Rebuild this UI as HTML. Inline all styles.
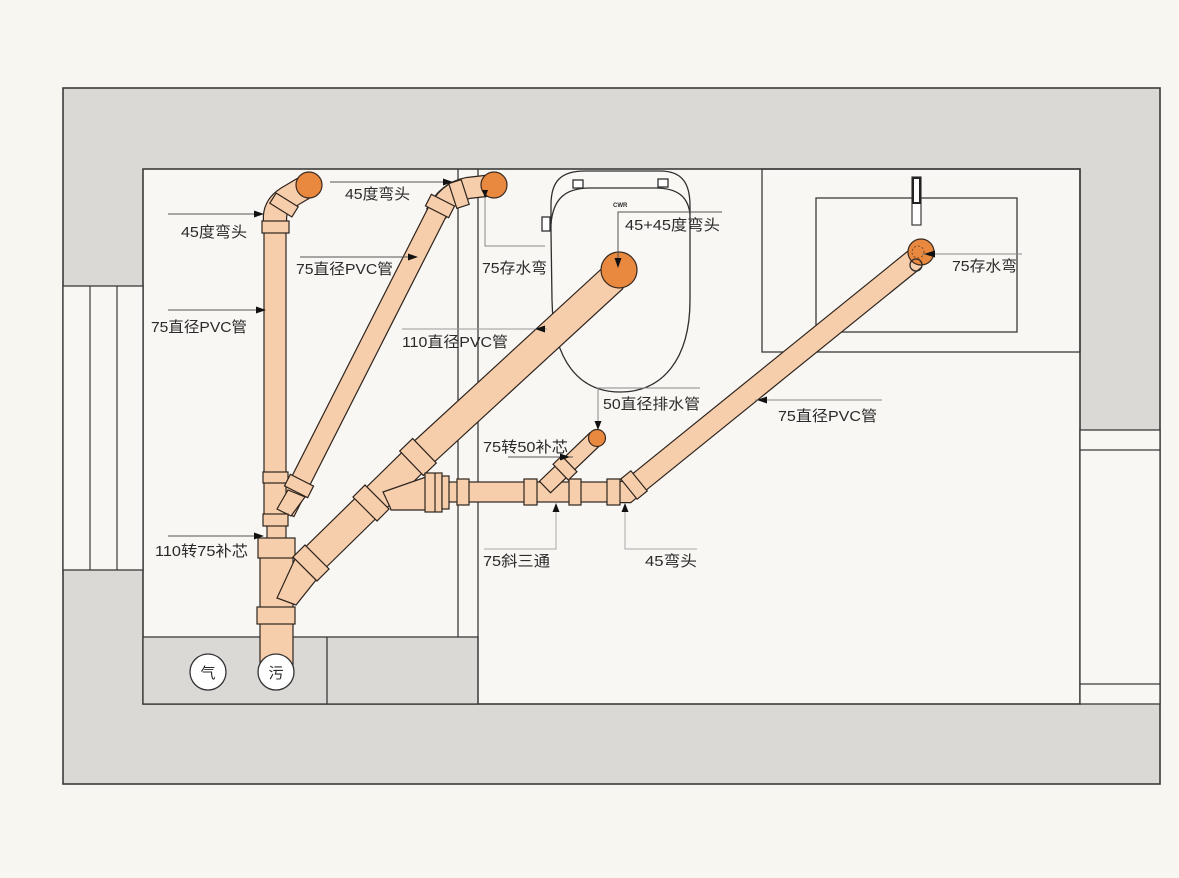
<!DOCTYPE html>
<html><head><meta charset="utf-8"><style>
html,body{margin:0;padding:0;background:#F8F6F1;}
svg{display:block;}
text{font-family:"Liberation Sans","Noto Sans CJK SC",sans-serif;font-size:15px;fill:#2a2a2a;}
</style></head><body>
<svg width="1179" height="878" viewBox="0 0 1179 878" xmlns="http://www.w3.org/2000/svg">
<rect width="1179" height="878" fill="#F8F6F1"/>
<!-- walls -->
<rect x="63" y="88" width="1097" height="696" fill="#DAD9D5" stroke="#3a3a3a" stroke-width="1.6"/>
<rect x="143" y="169" width="937" height="535" fill="#F9F7F3" stroke="#3a3a3a" stroke-width="1.6"/>
<!-- left opening -->
<rect x="63" y="286" width="80" height="284" fill="#F9F7F3" stroke="#3a3a3a" stroke-width="1.3"/>
<g stroke="#3a3a3a" stroke-width="1.2">
<line x1="90" y1="286" x2="90" y2="570"/>
<line x1="117" y1="286" x2="117" y2="570"/>
</g>
<!-- right opening -->
<rect x="1080" y="430" width="80" height="274" fill="#F9F7F3" stroke="#3a3a3a" stroke-width="1.3"/>
<g stroke="#3a3a3a" stroke-width="1.2">
<line x1="1080" y1="450" x2="1160" y2="450"/>
<line x1="1080" y1="684" x2="1160" y2="684"/>
</g>
<!-- floor strip -->
<rect x="143" y="637" width="335" height="67" fill="#DAD9D5" stroke="#3a3a3a" stroke-width="1.3"/>
<g stroke="#3a3a3a" stroke-width="1.3">
<line x1="327" y1="637" x2="327" y2="704"/>
<line x1="458" y1="169" x2="458" y2="637"/>
<line x1="478" y1="169" x2="478" y2="704"/>
</g>
<!-- sink -->
<g fill="none" stroke="#3a3a3a" stroke-width="1.3">
<rect x="762" y="169" width="318" height="183"/>
<rect x="816" y="198" width="201" height="134"/>
</g>
<rect x="912" y="177" width="9" height="48" fill="#fff" stroke="#3a3a3a" stroke-width="1.2"/>
<rect x="913" y="178" width="7" height="25" fill="#fff" stroke="#222" stroke-width="2"/>
<!-- toilet -->
<g fill="none" stroke="#2f2f2f" stroke-width="1.3">
<path d="M 551,232 L 551,205 C 551,181 561,171 585,171 L 660,171 C 682,171 690,183 690,206 L 690,300 C 690,360 662,392 620,392 C 580,392 553,362 552,300 Z" fill="#FAF8F4"/>
<path d="M 551,224 C 553,199 565,188 590,188 L 655,188 C 678,188 688,197 690,214"/>
<rect x="573" y="180" width="10" height="8" fill="#fff"/>
<rect x="658" y="179" width="10" height="8" fill="#fff"/>
<rect x="542" y="217" width="8" height="14" fill="#fff"/>
</g>
<text x="613" y="207" style="font-size:6px;font-weight:bold" >CWR</text>

<!-- ============ PIPES ============ -->
<g fill="#F6CEAC" stroke="#2e241d" stroke-width="1.2">
<!-- left elbow -->
<path d="M 275,230 L 275,216 Q 276,205 287,198 L 309,185" fill="none" stroke="#2e241d" stroke-width="24.4" stroke-linejoin="round"/>
<path d="M 275,232 L 275,216 Q 276,205 287,198 L 309,185" fill="none" stroke="#F6CEAC" stroke-width="22" stroke-linejoin="round"/>
<!-- top-middle elbow -->
<path d="M 436,214 Q 447,192 468,188 L 494,185" fill="none" stroke="#2e241d" stroke-width="22.4" stroke-linejoin="round"/>
<path d="M 436,216 Q 447,192 468,188 L 494,185" fill="none" stroke="#F6CEAC" stroke-width="20" stroke-linejoin="round"/>
<!-- upper 75 diagonal -->
<rect x="0" y="-10" width="345" height="20" transform="translate(285,512) rotate(-63.1)"/>
<!-- vertical 75 -->
<rect x="264" y="226" width="22" height="292"/>
<!-- reducer -->
<rect x="267" y="524" width="19" height="16"/>
<!-- vertical 110 -->
<rect x="260" y="545" width="33" height="122"/>
<!-- re-draw diagonal end over the vertical -->
<polygon points="277,509 288,490 305,497 291,516"/>
<!-- 110 diagonal upper -->
<rect x="0" y="-14.5" width="265" height="29" transform="translate(613,278) rotate(137.4)"/>
<!-- 110 diagonal lower -->
<rect x="0" y="-14.5" width="150" height="29" transform="translate(418,457) rotate(135.6)"/>
<polygon points="295,559 316,580 296,605 277,598"/>
<!-- wye branch -->
<polygon points="383,492 426,477 426,510 391,510 390,507"/>
<!-- horizontal 75 -->
<rect x="440" y="482" width="180" height="20"/>
<!-- 50 branch -->
<rect x="0" y="-8" width="70" height="16" transform="translate(545,487) rotate(-43.8)"/>
<!-- sink diagonal with elbow -->
<polyline points="612,492 627,492 915,259" fill="none" stroke="#2e241d" stroke-width="22.4" stroke-linejoin="miter"/>
<polyline points="610,492 627,492 915,259" fill="none" stroke="#F6CEAC" stroke-width="20" stroke-linejoin="miter"/>

<!-- couplings vertical -->
<rect x="262" y="221" width="27" height="12"/>
<rect x="263" y="472" width="25" height="11"/>
<rect x="263" y="514" width="25" height="12"/>
<rect x="258" y="538" width="37" height="20"/>
<rect x="257" y="607" width="38" height="17"/>
<!-- couplings upper diagonal -->
<rect x="-6.5" y="-13" width="13" height="26" transform="translate(299,486) rotate(-63.1)"/>
<rect x="-6.5" y="-13" width="13" height="26" transform="translate(440,206) rotate(-63.1)"/>
<rect x="-6.5" y="-13" width="13" height="26" transform="translate(459,194) rotate(-18)"/>
<!-- left elbow coupling -->
<rect x="-6" y="-13" width="12" height="26" transform="translate(284,205) rotate(-58)"/>
<!-- 110 couplings -->
<rect x="-9" y="-17" width="18" height="34" transform="translate(418,457) rotate(-44)"/>
<rect x="-8.5" y="-17" width="17" height="34" transform="translate(371,503) rotate(-45)"/>
<rect x="-8.5" y="-17" width="17" height="34" transform="translate(311,563) rotate(-45)"/>
<!-- horizontal couplings -->
<rect x="425" y="473" width="17" height="39"/>
<line x1="435" y1="473" x2="435" y2="512"/>
<rect x="442" y="476" width="7" height="33"/>
<rect x="457" y="479" width="12" height="26"/>
<rect x="524" y="479" width="13" height="26"/>
<rect x="569" y="479" width="12" height="26"/>
<rect x="607" y="479" width="13" height="26"/>
<!-- branch couplings -->
<rect x="-6" y="-11" width="12" height="22" transform="translate(565,468) rotate(-43.8)"/>
<rect x="-6.5" y="-13" width="13" height="26" transform="translate(634,485) rotate(-39)"/>
</g>

<!-- orange circles -->
<g fill="#E9893F" stroke="#3a2a20" stroke-width="1.2">
<circle cx="309" cy="185" r="13"/>
<circle cx="494" cy="185" r="13"/>
<circle cx="619" cy="270" r="18"/>
<circle cx="597" cy="438" r="8.5"/>
<circle cx="921" cy="252" r="13"/>
</g>
<circle cx="918" cy="252" r="6" fill="none" stroke="#7a4a25" stroke-width="1" stroke-dasharray="2,2"/>
<circle cx="916" cy="265" r="6" fill="none" stroke="#2a2a2a" stroke-width="1.3"/>

<!-- floor drains -->
<g fill="#fff" stroke="#333" stroke-width="1.3">
<circle cx="208" cy="672" r="18"/>
<circle cx="276" cy="672" r="18"/>
</g>
<text x="208" y="678" text-anchor="middle" style="font-size:15px">气</text>
<text x="276" y="678" text-anchor="middle" style="font-size:15px">污</text>

<!-- ============ LEADERS ============ -->
<g stroke="#555" stroke-width="1" fill="none">
<line x1="168" y1="214" x2="262" y2="214"/>
<line x1="168" y1="310" x2="264" y2="310"/>
<line x1="330" y1="182" x2="452" y2="182"/>
<line x1="300" y1="257" x2="416" y2="257"/>
<polyline points="485,192 485,246 545,246" stroke="#888"/>
<polyline points="722,212 618,212 618,266"/>
<line x1="402" y1="329" x2="547" y2="329" stroke="#999"/>
<polyline points="700,388 598,388 598,426" stroke="#888"/>
<line x1="508" y1="457" x2="573" y2="457"/>
<line x1="755" y1="400" x2="882" y2="400" stroke="#888"/>
<line x1="922" y1="254" x2="1022" y2="254" stroke="#888"/>
<line x1="168" y1="536" x2="262" y2="536"/>
<polyline points="556,505 556,549 484,549" stroke="#aaa"/>
<polyline points="625,505 625,549 697,549" stroke="#aaa"/>
</g>
<g fill="#111">
<polygon points="264,214 254,210.5 254,217.5"/>
<polygon points="266,310 256,306.5 256,313.5"/>
<polygon points="453,182 443,178.5 443,185.5"/>
<polygon points="418,257 408,253.5 408,260.5"/>
<polygon points="485,198 482,190 488,190"/>
<polygon points="618,268 614.5,258 621.5,258"/>
<polygon points="535,329 545,325.5 545,332.5"/>
<polygon points="598,430 594.5,421 601.5,421"/>
<polygon points="570,457 560,453.5 560,460.5"/>
<polygon points="757,400 767,396.5 767,403.5"/>
<polygon points="924,254 935,250.5 935,257.5"/>
<polygon points="264,536 254,532.5 254,539.5"/>
<polygon points="556,503 552.5,512 559.5,512"/>
<polygon points="625,503 621.5,512 628.5,512"/>
</g>

<!-- ============ LABELS ============ -->
<text x="181" y="237" textLength="66" lengthAdjust="spacingAndGlyphs">45度弯头</text>
<text x="151" y="332" textLength="96" lengthAdjust="spacingAndGlyphs">75直径PVC管</text>
<text x="345" y="199" textLength="65" lengthAdjust="spacingAndGlyphs">45度弯头</text>
<text x="296" y="274" textLength="97" lengthAdjust="spacingAndGlyphs">75直径PVC管</text>
<text x="482" y="273" textLength="65" lengthAdjust="spacingAndGlyphs">75存水弯</text>
<text x="625" y="230" textLength="95" lengthAdjust="spacingAndGlyphs">45+45度弯头</text>
<text x="402" y="347" textLength="106" lengthAdjust="spacingAndGlyphs">110直径PVC管</text>
<text x="603" y="409" textLength="97" lengthAdjust="spacingAndGlyphs">50直径排水管</text>
<text x="483" y="452" textLength="85" lengthAdjust="spacingAndGlyphs">75转50补芯</text>
<text x="778" y="421" textLength="99" lengthAdjust="spacingAndGlyphs">75直径PVC管</text>
<text x="952" y="271" textLength="65" lengthAdjust="spacingAndGlyphs">75存水弯</text>
<text x="155" y="556" textLength="93" lengthAdjust="spacingAndGlyphs">110转75补芯</text>
<text x="483" y="566" textLength="67" lengthAdjust="spacingAndGlyphs">75斜三通</text>
<text x="645" y="566" textLength="52" lengthAdjust="spacingAndGlyphs">45弯头</text>
</svg>
</body></html>
